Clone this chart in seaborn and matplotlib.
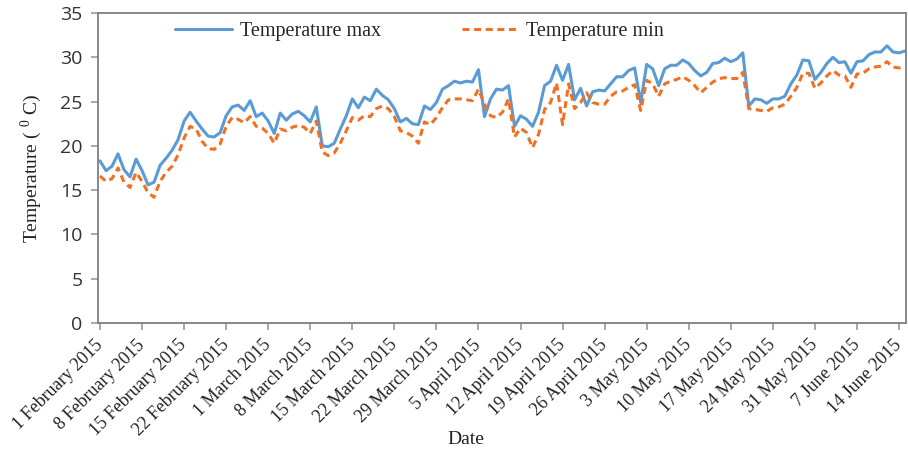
import numpy as np
import pandas as pd
import matplotlib
matplotlib.use("Agg")
import matplotlib.pyplot as plt
import seaborn as sns

start_date = "2015-02-01"

temp_max = [18.3, 17.2, 17.7, 19.1, 17.3, 16.5, 18.5, 17.2, 15.6, 15.9,
            17.8, 18.6, 19.5, 20.7, 22.8, 23.8, 22.8, 21.9, 21.1, 21.0,
            21.5, 23.4, 24.4, 24.6, 24.0, 25.1, 23.3, 23.7, 22.8, 21.4,
            23.7, 22.9, 23.6, 23.9, 23.4, 22.7, 24.4, 20.0, 19.9, 20.3,
            21.9, 23.4, 25.3, 24.3, 25.5, 25.1, 26.4, 25.7, 25.2, 24.2,
            22.7, 23.1, 22.5, 22.4, 24.5, 24.1, 24.9, 26.4, 26.8, 27.3,
            27.1, 27.3, 27.2, 28.6, 23.3, 25.3, 26.4, 26.3, 26.8, 22.2,
            23.4, 23.0, 22.2, 23.8, 26.8, 27.3, 29.1, 27.4, 29.2, 25.2,
            26.5, 24.5, 26.1, 26.3, 26.2, 27.0, 27.8, 27.8, 28.5, 28.8,
            24.9, 29.2, 28.7, 26.8, 28.7, 29.1, 29.1, 29.7, 29.3, 28.5,
            27.9, 28.3, 29.3, 29.4, 29.9, 29.5, 29.8, 30.5, 24.5, 25.3,
            25.2, 24.8, 25.3, 25.3, 25.6, 27.0, 28.0, 29.7, 29.6, 27.5,
            28.3, 29.3, 30.0, 29.4, 29.5, 28.2, 29.5, 29.6, 30.3, 30.6,
            30.6, 31.3, 30.6, 30.5, 30.7]

temp_min = [16.6, 16.0, 16.3, 17.5, 15.9, 15.3, 17.0, 16.0, 14.7, 14.2,
            16.0, 17.0, 17.7, 19.0, 20.9, 22.2, 21.9, 20.5, 19.7, 19.6,
            20.2, 22.2, 23.2, 23.0, 22.6, 23.3, 22.2, 22.0, 21.4, 20.3,
            21.9, 21.7, 22.1, 22.3, 22.1, 21.4, 22.8, 19.3, 18.9, 19.2,
            20.3, 21.7, 23.2, 22.9, 23.4, 23.3, 24.2, 24.5, 24.2, 23.3,
            21.7, 21.5, 21.1, 20.3, 22.7, 22.4, 23.2, 24.3, 25.2, 25.3,
            25.3, 25.2, 25.1, 26.4, 24.7, 23.4, 23.2, 23.8, 25.3, 21.0,
            22.0, 21.5, 19.8, 21.3, 24.1, 24.9, 27.1, 22.4, 27.0, 24.2,
            24.9, 26.0, 24.9, 24.7, 24.7, 25.6, 26.1, 26.2, 26.6, 26.9,
            24.0, 27.4, 27.0, 25.6, 27.0, 27.3, 27.5, 27.8, 27.4, 26.8,
            26.0, 26.6, 27.2, 27.6, 27.7, 27.6, 27.6, 28.3, 24.2, 24.1,
            24.0, 23.9, 24.3, 24.4, 24.7, 25.6, 26.6, 28.2, 28.2, 26.5,
            27.1, 27.9, 28.5, 28.0, 27.9, 26.6, 28.1, 28.2, 28.7, 28.9,
            29.0, 29.5, 28.9, 28.8, 28.9]

tick_labels = ["1 February 2015", "8 February 2015", "15 February 2015",
               "22 February 2015", "1 March 2015", "8 March 2015",
               "15 March 2015", "22 March 2015", "29 March 2015",
               "5 April 2015", "12 April 2015", "19 April 2015",
               "26 April 2015", "3 May 2015", "10 May 2015", "17 May 2015",
               "24 May 2015", "31 May 2015", "7 June 2015", "14 June 2015"]

dates = pd.date_range(start_date, periods=len(temp_max), freq="D")
df = pd.DataFrame({"Date": dates, "tmax": temp_max, "tmin": temp_min})
tick_dates = pd.date_range(start_date, periods=len(tick_labels), freq="7D")

sns.set_style("white")
plt.rcParams["font.family"] = ["Liberation Serif", "DejaVu Serif"]

fig = plt.figure(figsize=(9.08, 4.57), dpi=100)
ax = fig.add_axes([98 / 908, 1 - 323 / 457, 808 / 908, 310 / 457])

blue = "#5B9BD5"
orange = "#F07124"
sns.lineplot(data=df, x="Date", y="tmax", ax=ax, color=blue, linewidth=2.2,
             label="Temperature max")
sns.lineplot(data=df, x="Date", y="tmin", ax=ax, color=orange, linewidth=2.2,
             linestyle=(0, (2.3, 1.5)), label="Temperature min")

ax.set_xlim(dates[0] - pd.Timedelta(hours=8), dates[-1] + pd.Timedelta(hours=4))
ax.set_ylim(0, 35)
ax.set_yticks(np.arange(0, 36, 5))
ax.set_yticklabels([str(v) for v in range(0, 36, 5)], family="Open Sans",
                   fontsize=14, color="#333333")
ax.set_xticks(tick_dates)
ax.set_xticklabels(tick_labels, rotation=45, ha="right", va="center",
                   rotation_mode="anchor", fontsize=13, color="#222222")

for s in ax.spines.values():
    s.set_color("#7f7f7f")
    s.set_linewidth(1.3)
ax.tick_params(axis="both", direction="out", length=5, width=1.2,
               color="#9a9a9a", left=True, bottom=True)
ax.tick_params(axis="x", pad=9)
ax.tick_params(axis="y", pad=6)
ax.grid(False)

ax.set_xlabel("Date", fontsize=14, color="#222222")
ax.xaxis.set_label_coords((466 - 98) / 808, (323 - 431) / 310)
ax.set_ylabel(r"Temperature ( $^{\mathregular{0}}$ C)", fontsize=14,
              color="#222222")
ax.yaxis.set_label_coords((44 - 98) / 808, 0.5)

ax.legend(loc="center", bbox_to_anchor=(0.398, 0.94), ncol=2, frameon=False,
          fontsize=14.5, handlelength=2.8, columnspacing=4.0,
          handletextpad=0.4)

fig.savefig("out.png", dpi=100)
